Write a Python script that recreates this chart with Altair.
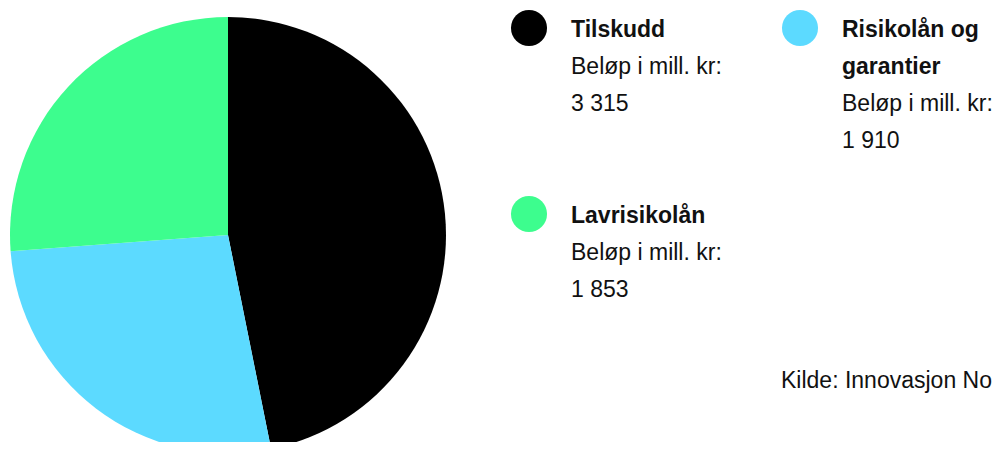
import altair as alt
import pandas as pd

# data
categories = ["Tilskudd", "Risikolån og garantier", "Lavrisikolån"]
amounts = [3315, 1910, 1853]
amount_labels = ["3 315", "1 910", "1 853"]
colors = ["#000000", "#5cdaff", "#3dfd8e"]
title_lines = [["Tilskudd"], ["Risikolån og", "garantier"], ["Lavrisikolån"]]
sub_label = "Beløp i mill. kr:"
source = "Kilde: Innovasjon Norge"

FONT = "Liberation Sans"
FS = 23
LINE = 37

pie_df = pd.DataFrame({"cat": categories, "amount": amounts, "order": [0, 1, 2]})

pie = alt.Chart(pie_df).mark_arc(stroke=None).encode(
    theta=alt.Theta("amount:Q", stack=True),
    order=alt.Order("order:Q"),
    color=alt.Color("cat:N", scale=alt.Scale(domain=categories, range=colors), legend=None),
    x=alt.value(220),
    y=alt.value(227),
    radius=alt.value(218),
)

# legend layout (grid slots)
slots = [(521, 20), (792, 20), (521, 206)]
pts, bold_rows, reg_rows = [], [], []
for i, cat in enumerate(categories):
    cx, cy = slots[i]
    pts.append({"cat": cat, "px": cx, "py": cy})
    tx = cx + 42
    by = cy + 9
    for j, ln in enumerate(title_lines[i]):
        bold_rows.append({"t": ln, "px": tx, "py": by + j * LINE})
    nb = len(title_lines[i])
    reg_rows.append({"t": sub_label, "px": tx, "py": by + nb * LINE})
    reg_rows.append({"t": amount_labels[i], "px": tx, "py": by + (nb + 1) * LINE})
reg_rows.append({"t": source, "px": 773, "py": 380})

dots = alt.Chart(pd.DataFrame(pts)).mark_point(filled=True, size=1300, opacity=1, shape="circle").encode(
    x=alt.X("px:Q", scale=None, axis=None),
    y=alt.Y("py:Q", scale=None, axis=None),
    color=alt.Color("cat:N", scale=alt.Scale(domain=categories, range=colors), legend=None),
)

bold = alt.Chart(pd.DataFrame(bold_rows)).mark_text(
    align="left", baseline="alphabetic", font=FONT, fontSize=FS, fontWeight="bold", color="#111111"
).encode(x=alt.X("px:Q", scale=None), y=alt.Y("py:Q", scale=None), text="t:N")

reg = alt.Chart(pd.DataFrame(reg_rows)).mark_text(
    align="left", baseline="alphabetic", font=FONT, fontSize=FS, color="#111111"
).encode(x=alt.X("px:Q", scale=None), y=alt.Y("py:Q", scale=None), text="t:N")

chart = alt.layer(pie, dots, bold, reg).properties(
    width=984, height=434, autosize=alt.AutoSizeParams(type="none"), padding=0
).configure_view(stroke=None)

chart.save("out.html", embed_options={"renderer": "svg", "actions": False})
